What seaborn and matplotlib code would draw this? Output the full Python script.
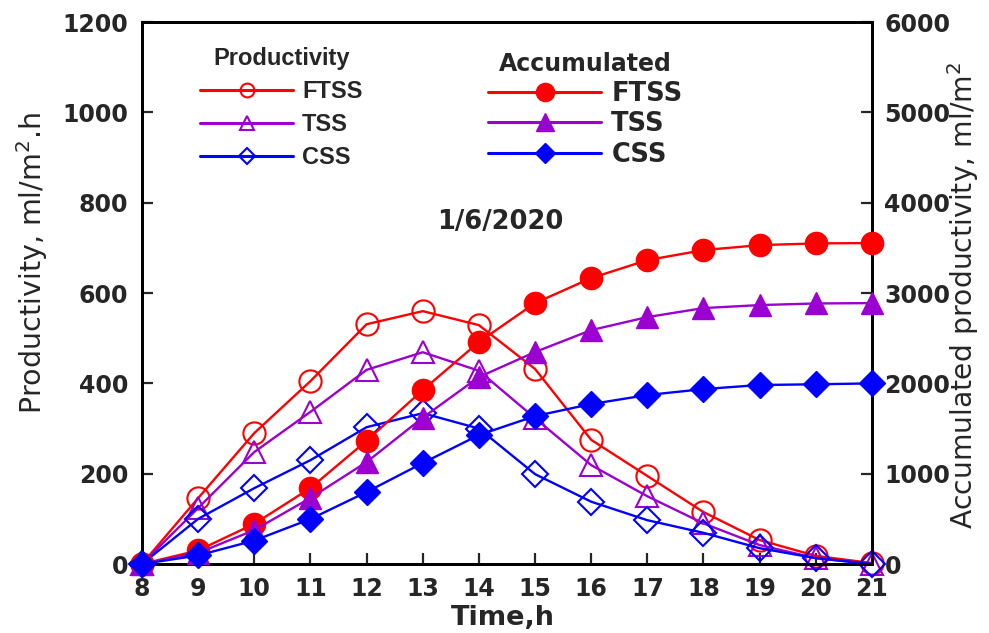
import matplotlib
matplotlib.use("Agg")
import matplotlib.pyplot as plt
import seaborn as sns
from matplotlib.lines import Line2D

sns.set_style("white")
plt.rcParams['font.family'] = ['DejaVu Sans']
plt.rcParams['mathtext.fontset'] = 'dejavusans'

hours = [8, 9, 10, 11, 12, 13, 14, 15, 16, 17, 18, 19, 20, 21]
prod_ftss = [0, 146, 290, 405, 531, 560, 529, 432, 275, 195, 115, 53, 18, 2]
prod_tss = [0, 124, 248, 337, 430, 469, 428, 323, 219, 150, 90, 42, 13, 0]
prod_css = [0, 100, 168, 230, 303, 334, 300, 199, 138, 97, 69, 35, 13, 0]
acc_ftss = [0, 150, 445, 841, 1365, 1926, 2458, 2889, 3166, 3365, 3476, 3531, 3550, 3554]
acc_tss = [0, 122, 376, 731, 1129, 1620, 2070, 2347, 2590, 2734, 2834, 2867, 2885, 2889]
acc_css = [0, 95, 260, 498, 797, 1118, 1428, 1638, 1771, 1871, 1937, 1982, 1990, 2000]
series_names = ["FTSS", "TSS", "CSS"]
colors = ["#FF0000", "#9B00D0", "#0000FF"]
markers = ["o", "^", "D"]
msizes = [16, 16, 13]

fig = plt.figure(figsize=(9.89, 6.33), dpi=100)
ax = fig.add_axes([0.1436, 0.109, 0.738, 0.856])
ax2 = ax.twinx()

for vals, c, m, ms in zip([prod_ftss, prod_tss, prod_css], colors, markers, msizes):
    sns.lineplot(x=hours, y=vals, ax=ax, color=c, marker=m, markersize=ms,
                 markerfacecolor="none", markeredgecolor=c, markeredgewidth=1.5,
                 linewidth=1.7, clip_on=False, zorder=3)
for vals, c, m, ms in zip([acc_ftss, acc_tss, acc_css], colors, markers, msizes):
    sns.lineplot(x=hours, y=vals, ax=ax2, color=c, marker=m, markersize=ms,
                 markerfacecolor=c, markeredgecolor=c, markeredgewidth=1.0,
                 linewidth=1.7, clip_on=False, zorder=3)

ax.set_xlim(8, 21)
ax.set_ylim(0, 1200)
ax2.set_ylim(0, 6000)
ax.set_xticks(hours)
ax.set_yticks(range(0, 1201, 200))
ax2.set_yticks(range(0, 6001, 1000))

tick_font = dict(fontsize=17, fontweight="bold", family="DejaVu Sans")
ax.set_xticklabels([str(h) for h in hours], **tick_font)
ax.set_yticklabels([str(v) for v in range(0, 1201, 200)], **tick_font)
ax2.set_yticklabels([str(v) for v in range(0, 6001, 1000)], **tick_font)

for a in (ax, ax2):
    for s in a.spines.values():
        s.set_linewidth(2.0)
        s.set_color("black")
ax.tick_params(axis="y", direction="in", length=8, width=1.6, pad=10, left=True)
ax.tick_params(axis="x", direction="in", length=8, width=1.6, pad=9, bottom=True)
ax2.tick_params(axis="y", direction="in", length=8, width=1.6, pad=9, right=True)

ax.set_xlabel("Time,h", fontsize=19.5, fontweight="bold")
ax.xaxis.set_label_coords(0.4945, -0.0996)
ax.xaxis.label.set_va("center")
ax.set_ylabel("Productivity, ml/m$^2$.h", fontsize=20.5)
ax.yaxis.set_label_coords(-0.151, 0.555)
ax.yaxis.label.set_va("center")
ax2.set_ylabel("Accumulated productivity, ml/m$^2$", fontsize=20.3)
ax2.yaxis.set_label_coords(1.125, 0.496)
ax2.yaxis.label.set_va("center")

ax.text(14.39, 757, "1/6/2020", ha="center", va="center", fontsize=18.5, fontweight="bold")

h1 = [Line2D([], [], color=c, marker=m, markersize=ms * 0.62, markerfacecolor="none",
             markeredgecolor=c, markeredgewidth=1.5, linewidth=2.2) for c, m, ms in zip(colors, markers, msizes)]
h2 = [Line2D([], [], color=c, marker=m, markersize=ms * 0.82, markerfacecolor=c,
             markeredgecolor=c, linewidth=2.2) for c, m, ms in zip(colors, markers, msizes)]
leg1 = ax2.legend(h1, series_names, title="Productivity", frameon=False,
                  loc="upper left", bbox_to_anchor=(200 / 989, 1 - 47 / 633),
                  bbox_transform=fig.transFigure, borderpad=0, borderaxespad=0,
                  prop=dict(size=17, weight="bold", family="Liberation Sans"),
                  title_fontproperties=dict(size=17, weight="bold", family="Liberation Sans"),
                  handlelength=3.94, labelspacing=0.43, handletextpad=0.38)
ax2.add_artist(leg1)
leg2 = ax2.legend(h2, series_names, title="Accumulated", frameon=False,
                  loc="upper left", bbox_to_anchor=(488 / 989, 1 - 52 / 633),
                  bbox_transform=fig.transFigure, borderpad=0, borderaxespad=0,
                  prop=dict(size=18.5, weight="bold", family="DejaVu Sans"),
                  title_fontproperties=dict(size=17, weight="bold", family="DejaVu Sans"),
                  handlelength=4.4, labelspacing=0.18, handletextpad=0.4)

fig.savefig("out.png", dpi=100)
